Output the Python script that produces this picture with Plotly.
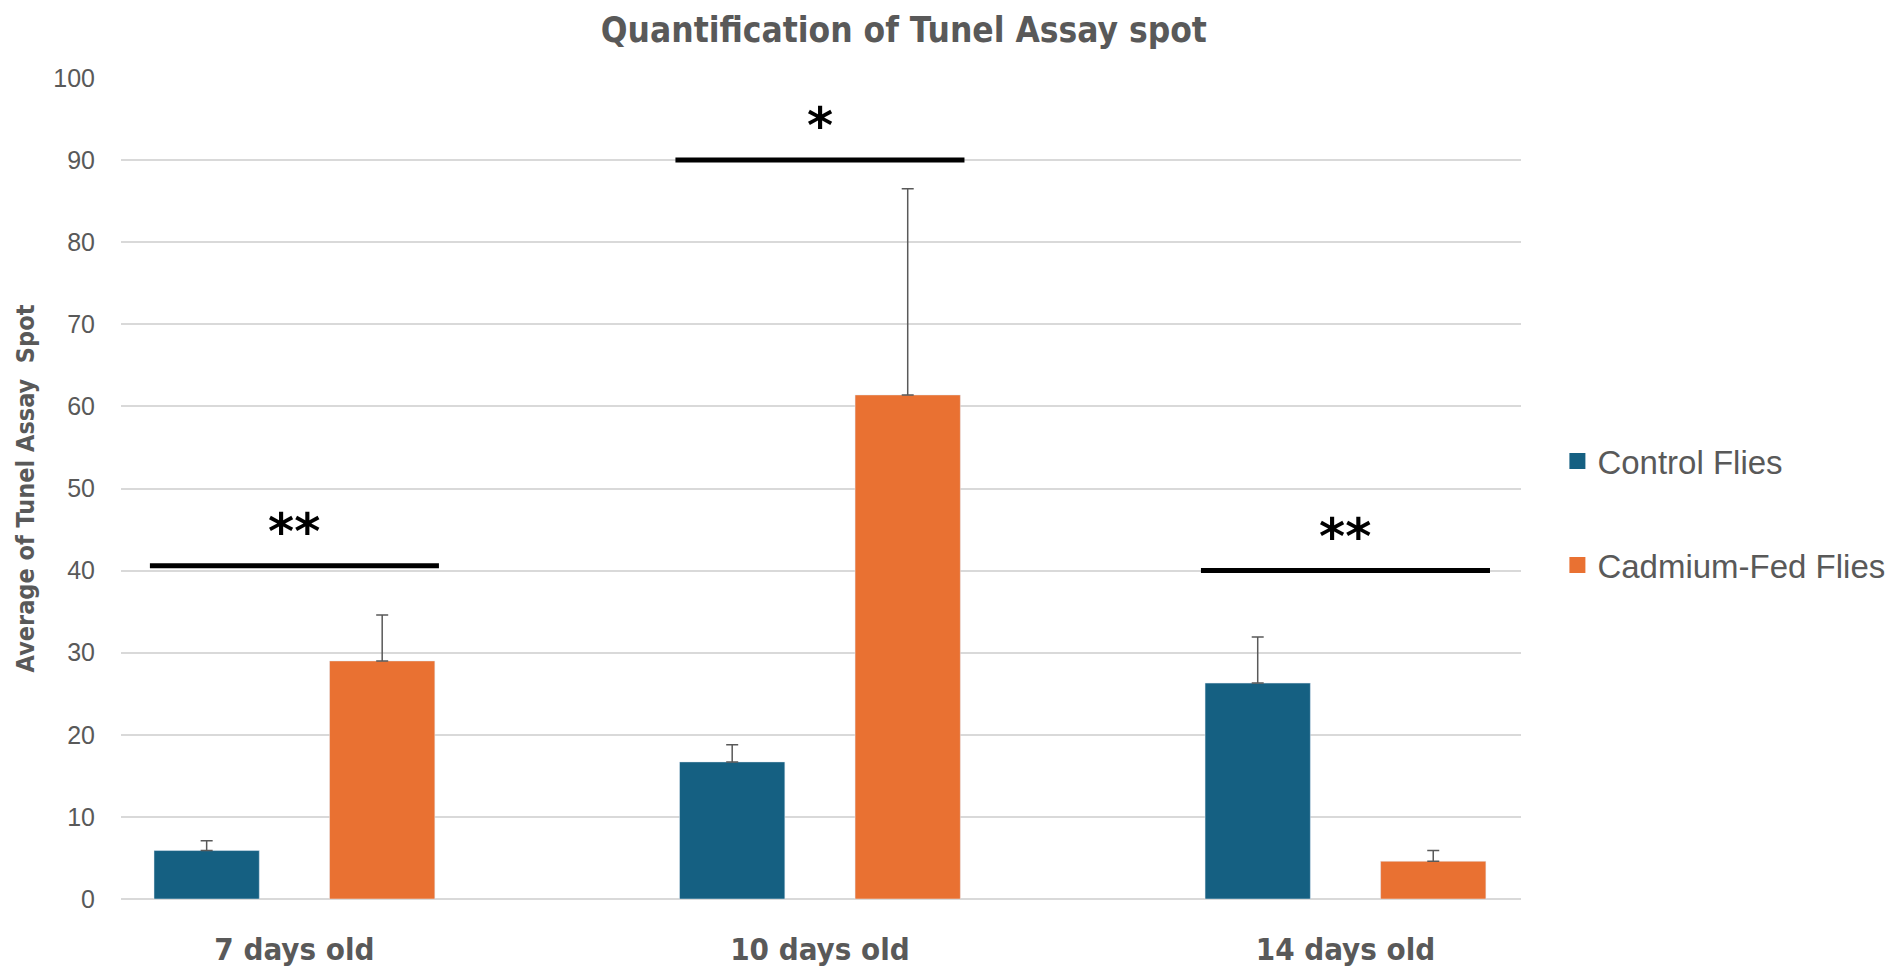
import plotly.graph_objects as go

# data
ages = ["7 days old", "10 days old", "14 days old"]
control_mean = [5.9, 16.7, 26.3]
control_err = [1.2, 2.1, 5.6]
cadmium_mean = [29.0, 61.4, 4.6]
cadmium_err = [5.6, 25.1, 1.3]
sig_level = [40.6, 90.0, 40.0]
sig_label = ["**", "*", "**"]

BLUE = "#156082"
ORANGE = "#E97132"
GREY = "#595959"
BOLD_FONT = "DejaVu Sans Condensed, Liberation Sans Narrow, Roboto, sans-serif"
PLAIN_FONT = "Liberation Sans, Arial, sans-serif"

fig = go.Figure()

err_style = dict(type="data", symmetric=False, color=GREY, thickness=1.5, width=6)
fig.add_trace(go.Bar(
    x=ages, y=control_mean, name="Control Flies", marker_color=BLUE,
    error_y=dict(array=control_err, arrayminus=[0] * len(ages), **err_style),
    showlegend=False,
))
fig.add_trace(go.Bar(
    x=ages, y=cadmium_mean, name="Cadmium-Fed Flies", marker_color=ORANGE,
    error_y=dict(array=cadmium_err, arrayminus=[0] * len(ages), **err_style),
    showlegend=False,
))

# legend proxies so the swatches can be sized like the original
for name, col in [("Control Flies", BLUE), ("Cadmium-Fed Flies", ORANGE)]:
    fig.add_trace(go.Scatter(
        x=[None], y=[None], mode="markers", name=name, legendgroup=name,
        marker=dict(symbol="square", size=20, color=col),
    ))

# significance brackets
for i, (lvl, lab) in enumerate(zip(sig_level, sig_label)):
    fig.add_shape(type="line", xref="x", yref="y", x0=i - 0.275, x1=i + 0.275,
                  y0=lvl, y1=lvl, line=dict(color="black", width=5))
    fig.add_annotation(x=i, y=lvl + 4.1, xref="x", yref="y", text=lab,
                       showarrow=False, yanchor="middle",
                       font=dict(family="DejaVu Sans", size=50, color="black", weight="bold"))

# page body has an 8px margin, so the figure is 8px smaller
fig.update_layout(
    width=1894, height=972, autosize=False,
    margin=dict(l=113, r=377, t=70, b=81),
    paper_bgcolor="white", plot_bgcolor="white",
    barmode="group", bargap=0.332, bargroupgap=0.4,
    title=dict(text="<b>Quantification of Tunel Assay spot</b>", x=0.473, xanchor="center",
               y=0.978, yanchor="middle",
               font=dict(family=BOLD_FONT, size=35, color=GREY)),
    legend=dict(x=1.026, xanchor="left", y=0.47, yanchor="middle",
                traceorder="grouped", tracegroupgap=58,
                font=dict(family=PLAIN_FONT, size=33, color=GREY),
                bgcolor="rgba(0,0,0,0)"),
    xaxis=dict(range=[-0.33, 2.334], showgrid=False, showline=False, ticks="",
               ticklabelstandoff=29,
               tickfont=dict(family=BOLD_FONT, size=31, color=GREY, weight="bold")),
    yaxis=dict(range=[0, 100], dtick=10, showgrid=True, gridcolor="#D9D9D9", gridwidth=1.5,
               zeroline=True, zerolinecolor="#D9D9D9", zerolinewidth=1.5,
               showline=False, ticks="", ticklabelstandoff=25,
               tickfont=dict(family=PLAIN_FONT, size=25, color=GREY),
               title=dict(text="<b>Average of Tunel Assay  Spot</b>", standoff=11,
                          font=dict(family=BOLD_FONT, size=25, color=GREY))),
)

fig.write_html("out.html")
